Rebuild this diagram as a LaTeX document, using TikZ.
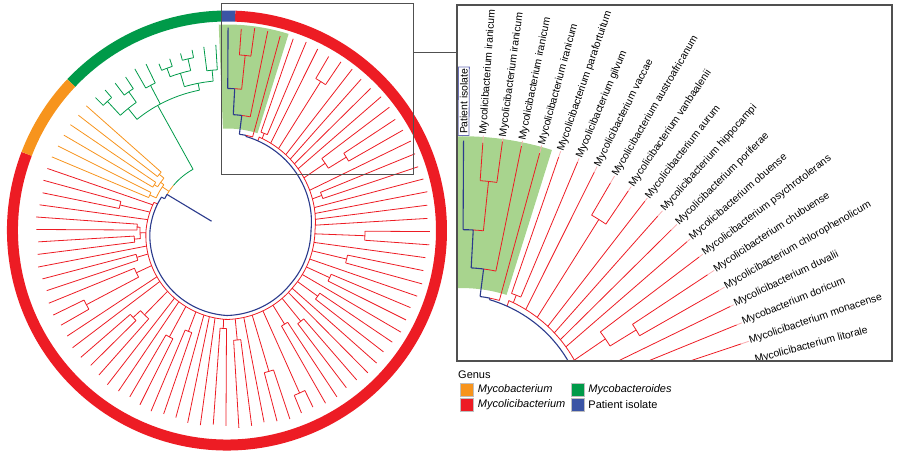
\documentclass[tikz,border=0pt]{standalone}
\usepackage{fontspec}
\setmainfont{Liberation Sans}
\usetikzlibrary{positioning}

\definecolor{mycolici}{HTML}{ED1C24}
\definecolor{mycobact}{HTML}{F7941D}
\definecolor{mycoides}{HTML}{009A49}
\definecolor{patient}{HTML}{3B54A5}
\definecolor{backbone}{HTML}{2B3A8C}
\definecolor{wedgegreen}{HTML}{A8D48E}
\definecolor{framegray}{HTML}{505050}
\definecolor{patbox}{HTML}{6A6FB5}

\tikzset{
  declare function={
    lang(\k)=89.7+3.75*\k;
    bb(\t)=(\t<180) ? 73+(\t-149)*4/31 : ((\t<270) ? 77+(\t-180)*8/90 : ((\t<320) ? 85-(\t-270)*2/50 : ((\t<360) ? 83+(\t-320)/40 : 84+(\t-360)*12/79)));
    tipr(\k)=min(203,189+(lang(\k)-161)*0.065)+1.5*sin(\k*97);
  },
  redbr/.style={mycolici, line width=0.8},
  grnbr/.style={mycoides, line width=0.8},
  orgbr/.style={mycobact, line width=0.8},
  blubr/.style={backbone, line width=1.1},
  leader/.style={mycolici!35, line width=0.8},
  ringseg/.style={line width=11},
}

% branch pieces in polar form: style, angle(s), radius
\newcommand{\brarc}[4]{\draw[#1] (#2:#4) arc[start angle=#2, end angle=#3, radius=#4];}
\newcommand{\brline}[4]{\draw[#1] (#2:#3) -- (#2:#4);}
\newcommand{\legfont}{\fontsize{11}{13}\selectfont}

\newcommand{\drawtree}{%
  % highlighted clade of the patient isolate
  \fill[wedgegreen] (72.6:102) arc[start angle=72.6, end angle=92.3, radius=102]
    -- (92.3:206) arc[start angle=92.3, end angle=72.6, radius=206] -- cycle;

  % Mycolicibacterium leaves (index / base radius, 0 = on the ladder)
  \foreach \kk/\bse in {19/0, 20/110, 21/110, 22/0, 23/90, 24/90, 25/93, 26/93, 27/0,
      28/94, 29/94, 30/100, 31/159, 32/159, 33/0, 34/0, 35/128, 36/128, 37/118, 38/0,
      39/0, 40/121, 41/121, 42/108, 43/108, 44/0, 45/0, 46/0, 47/98, 48/98, 49/110,
      50/110, 51/0, 52/147, 53/147, 54/178, 55/178, 56/110, 57/110, 58/117, 59/117,
      60/0, 61/0, 62/112, 63/112, 64/0, 65/113, 66/113, 67/0, 68/123, 69/123, 70/0,
      71/138, 72/138, 73/0, 74/0, 75/0, 76/0, 77/101, 78/101, 79/0, 80/140, 81/140,
      82/119, 83/0, 84/0, 85/0, 86/0, 87/176, 88/176, 89/0, 90/104, 91/104, 92/97,
      93/116, 94/176, 95/176}{
    \pgfmathsetmacro\ang{lang(\kk)}
    \pgfmathsetmacro\rbase{\bse==0 ? bb(\ang)+4 : \bse}
    \pgfmathsetmacro\rtip{tipr(\kk)}
    \draw[redbr] (\ang:\rbase) -- (\ang:\rtip);
  }

  % Mycolicibacterium inner nodes (first / last / node radius / stem base)
  \foreach \ka/\kb/\rnode/\rstem in {20/21/110/0, 23/24/90/87, 25/26/93/87,
      23.5/25.5/87/0, 28/29/94/0, 30/31.5/100/0, 31/32/159/100, 35/36/128/118,
      35.5/37/118/0, 40/41/121/0, 42/43/108/0, 47/48/98/0, 49/50/110/0, 52/53/147/0,
      54/55/178/0, 56/57/110/0, 58/59/117/0, 62/63/112/0, 65/66/113/0, 68/69/123/0,
      71/72/138/0, 77/78/101/0, 80/81/140/119, 80.5/82/119/0, 87/88/176/0,
      90/91/104/0, 94/95/176/142}{
    \pgfmathsetmacro\anga{lang(\ka)}
    \pgfmathsetmacro\angb{lang(\kb)}
    \pgfmathsetmacro\angm{(\anga+\angb)/2}
    \pgfmathsetmacro\rfrom{\rstem==0 ? bb(\angm)+4 : \rstem}
    \draw[redbr] (\angm:\rfrom) -- (\angm:\rnode);
    \draw[redbr] (\anga:\rnode) arc[start angle=\anga, end angle=\angb, radius=\rnode];
  }

  % red ladder along the backbone
  \draw[redbr] (159:{bb(159)}) -- (159:{bb(159)+4})
    plot[domain=159:431, samples=120] (\x:{bb(\x)+4}) -- (431:{bb(431)});

  % Mycobacteroides
  \brline{grnbr}{119}{70}{143}
  \brarc{grnbr}{101.1}{129}{143}
  \brline{grnbr}{101.1}{143}{150}
  \brarc{grnbr}{95.3}{106.5}{150}
  \brline{grnbr}{95.3}{150}{161}
  \brarc{grnbr}{93.45}{97.2}{161}
  \brline{grnbr}{93.45}{161}{186} \brline{grnbr}{97.2}{161}{185}
  \brline{grnbr}{106.5}{150}{164}
  \brarc{grnbr}{102.8}{110.3}{164}
  \brline{grnbr}{102.8}{164}{176}
  \brarc{grnbr}{100.95}{104.7}{176}
  \brline{grnbr}{100.95}{176}{184} \brline{grnbr}{104.7}{176}{183}
  \brline{grnbr}{110.3}{164}{173}
  \brarc{grnbr}{108.45}{112.2}{173}
  \brline{grnbr}{108.45}{173}{181} \brline{grnbr}{112.2}{173}{180}
  \brline{grnbr}{117.8}{143}{164}
  \brarc{grnbr}{115.95}{119.7}{164}
  \brline{grnbr}{115.95}{164}{185} \brline{grnbr}{119.7}{164}{186}
  \brline{grnbr}{129}{143}{157}
  \brarc{grnbr}{125.3}{132.8}{157}
  \brline{grnbr}{125.3}{157}{170}
  \brarc{grnbr}{123.45}{127.2}{170}
  \brline{grnbr}{123.45}{170}{184} \brline{grnbr}{127.2}{170}{185}
  \brline{grnbr}{132.8}{157}{176}
  \brarc{grnbr}{130.95}{134.7}{176}
  \brline{grnbr}{130.95}{176}{186} \brline{grnbr}{134.7}{176}{187}

  % Mycobacterium
  \brline{orgbr}{146}{70}{78}
  \brarc{orgbr}{144.05}{155.3}{78}
  \brline{orgbr}{155.3}{78}{85}
  \brarc{orgbr}{153.45}{157.2}{85}
  \brline{orgbr}{153.45}{85}{189} \brline{orgbr}{157.2}{85}{190}
  \brline{orgbr}{144.05}{78}{82}
  \brarc{orgbr}{140.3}{147.8}{82}
  \brline{orgbr}{140.3}{82}{88}
  \brarc{orgbr}{138.45}{142.2}{88}
  \brline{orgbr}{138.45}{88}{188} \brline{orgbr}{142.2}{88}{188}
  \brline{orgbr}{147.8}{82}{86}
  \brarc{orgbr}{145.95}{149.7}{86}
  \brline{orgbr}{145.95}{86}{189} \brline{orgbr}{149.7}{86}{189}

  % root and lineage of the patient isolate
  \brarc{grnbr}{119}{140}{70}
  \brarc{orgbr}{140}{149}{70}
  \brline{blubr}{149}{18}{70}
  \brarc{blubr}{149}{153}{70}
  \draw[blubr] (153:70) -- (153:{bb(153)}) plot[domain=153:438.69, samples=150] (\x:{bb(\x)});
  \brline{blubr}{78.69}{96}{97}
  \brarc{blubr}{78.69}{82.67}{97}
  \brarc{redbr}{74.7}{78.69}{97}
  \brline{blubr}{82.67}{97}{116}
  \brarc{blubr}{82.67}{86.89}{116}
  \brarc{redbr}{78.45}{82.67}{116}
  \brline{blubr}{86.89}{116}{142}
  \brarc{blubr}{86.89}{89.7}{142}
  \brarc{redbr}{84.08}{86.89}{142}
  \brline{blubr}{89.7}{142}{203}
}

\begin{document}
\begin{tikzpicture}[x=1pt, y=1pt,
    taxon/.style={anchor=west, inner sep=0pt, font=\fontsize{10.4}{12}\selectfont},
    legsq/.style={minimum size=13pt, inner sep=0pt, draw=black!25, line width=0.5},
    legtext/.style={anchor=west, inner sep=0pt, font=\legfont}
  ]
  \useasboundingbox (0,0) rectangle (900,457);

  % circular tree with genus ring
  \begin{scope}[shift={(227,226.5)}]
    \drawtree
    \draw[ringseg, mycolici] (159.075:214.5) arc[start angle=159.075, end angle=447.825, radius=214.5];
    \draw[ringseg, patient] (87.825:214.5) arc[start angle=87.825, end angle=91.575, radius=214.5];
    \draw[ringseg, mycoides] (91.575:214.5) arc[start angle=91.575, end angle=136.575, radius=214.5];
    \draw[ringseg, mycobact] (136.575:214.5) arc[start angle=136.575, end angle=159.075, radius=214.5];
  \end{scope}

  % zoom frame and enlarged part
  \draw[framegray, line width=1] (221,282) rectangle (413,453);
  \coordinate (zoomsrc) at (413,404);
  \coordinate (zoomdst) at (457,404);
  \draw[framegray, line width=1] (zoomsrc) -- (zoomdst);

  \begin{scope}
    \clip (457,96) rectangle (892,452);
    \begin{scope}[shift={(462,20)}, scale=1.46]
      \drawtree
      \node[taxon, rotate=89.7, draw=patbox, line width=0.8, inner sep=1.6pt] (labpatient)
        at (89.7:206.2) {Patient isolate};
      \foreach \j/\name in {1/Mycolicibacterium iranicum, 2/Mycolicibacterium iranicum,
          3/Mycolicibacterium iranicum, 4/Mycolicibacterium iranicum,
          5/Mycolicibacterium parafortuitum, 6/Mycolicibacterium gilvum,
          7/Mycolicibacterium vaccae, 8/Mycolicibacterium austroafricanum,
          9/Mycolicibacterium vanbaalenii, 10/Mycolicibacterium aurum,
          11/Mycolicibacterium hippocampi, 12/Mycolicibacterium poriferae,
          13/Mycolicibacterium obuense, 14/Mycolicibacterium psychrotolerans,
          15/Mycolicibacterium chubuense, 16/Mycolicibacterium chlorophenolicum,
          17/Mycolicibacterium duvalii, 18/Mycobacterium doricum,
          19/Mycolicibacterium monacense, 20/Mycolicibacterium litorale}{
        \pgfmathsetmacro\ang{89.7-3.75*\j}
        \pgfmathsetmacro\rtip{tipr(96-\j)}
        \draw[leader] (\ang:\rtip) -- (\ang:207);
        \node[taxon, rotate=\ang] (lab\j) at (\ang:207.5) {\name};
      }
    \end{scope}
  \end{scope}
  \draw[framegray, line width=1.2] (457,96) rectangle (892,452);

  % legend
  \node[anchor=base west, inner sep=0pt, font=\legfont] (genus) at (458,78) {Genus};
  \node[legsq, fill=mycobact] (sqorange) at (466.5,67) {};
  \node[legsq, fill=mycolici] (sqred) at (466.5,52) {};
  \node[legsq, fill=mycoides] (sqgreen) at (577.5,67) {};
  \node[legsq, fill=patient] (sqblue) at (577.5,52) {};
  \node[legtext, right=4.5pt of sqorange] (txorange) {\textit{Mycobacterium}};
  \node[legtext, right=4.5pt of sqred] (txred) {\textit{Mycolicibacterium}};
  \node[legtext, right=4pt of sqgreen] (txgreen) {\textit{Mycobacteroides}};
  \node[legtext, right=4pt of sqblue] (txblue) {Patient isolate};
\end{tikzpicture}
\end{document}
